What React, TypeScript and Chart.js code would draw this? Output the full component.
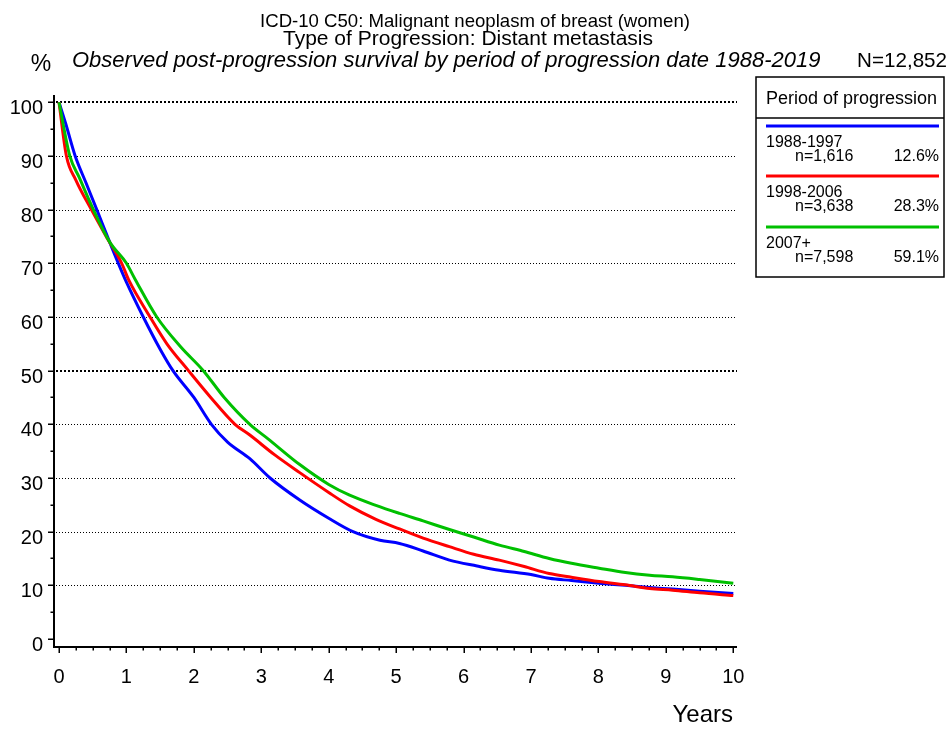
import React, { useEffect, useRef } from "react";
import { Chart, registerables } from "chart.js";

Chart.register(...registerables);

// ---- Data ----
const periods = ["1988-1997", "1998-2006", "2007+"];
const counts = ["n=1,616", "n=3,638", "n=7,598"];
const shares = ["12.6%", "28.3%", "59.1%"];

const years1988 = [0, 0.1, 0.24, 0.4, 0.56, 0.75, 0.88, 1.0, 1.25, 1.5, 1.69, 2.0, 2.26, 2.5, 2.83, 3.13, 3.57, 4.0, 4.36, 4.76, 5.05, 5.4, 5.79, 6.2, 6.53, 7.0, 7.27, 7.6, 8.01, 8.4, 8.76, 9.1, 9.5, 10];
const surv1988 = [100, 96, 90, 85, 80, 74, 70, 66.5, 60, 54, 50, 45, 40, 36.7, 33.6, 30, 25.9, 22.5, 20, 18.4, 17.8, 16.4, 14.7, 13.6, 12.8, 12.0, 11.3, 10.9, 10.4, 10.0, 9.6, 9.3, 8.9, 8.5];

const years1998 = [0, 0.11, 0.25, 0.48, 0.7, 0.93, 1.03, 1.35, 1.6, 1.92, 2.25, 2.61, 2.83, 3.2, 3.57, 4.0, 4.31, 4.7, 5.05, 5.4, 5.79, 6.15, 6.53, 6.9, 7.27, 7.6, 8.01, 8.4, 8.76, 9.1, 9.5, 10];
const surv1998 = [100, 90, 85.5, 80, 75, 70, 67, 60, 55, 50, 45, 40, 38, 34.3, 31, 27.3, 24.8, 22.3, 20.5, 18.8, 17.2, 15.8, 14.7, 13.5, 12.2, 11.5, 10.7, 10.1, 9.4, 9.1, 8.6, 8.1];

const years2007 = [0, 0.16, 0.3, 0.51, 0.75, 1.0, 1.13, 1.45, 1.8, 2.14, 2.45, 2.83, 3.1, 3.57, 4.0, 4.31, 4.7, 5.05, 5.4, 5.79, 6.15, 6.53, 6.9, 7.27, 7.6, 8.01, 8.4, 8.76, 9.1, 9.5, 10];
const surv2007 = [100, 90, 86, 80, 74, 70, 67, 60, 54.5, 50, 45, 40, 37.3, 32.5, 28.8, 26.8, 24.9, 23.4, 22, 20.4, 19, 17.5, 16.3, 15, 14.1, 13.2, 12.4, 11.9, 11.6, 11.1, 10.4];

const xTickLabels = ["0", "1", "2", "3", "4", "5", "6", "7", "8", "9", "10"];
const yTickLabels = ["0", "10", "20", "30", "40", "50", "60", "70", "80", "90", "100"];

const titleLine1 = "ICD-10 C50: Malignant neoplasm of breast (women)";
const titleLine2 = "Type of Progression: Distant metastasis";
const titleLine3 = "Observed post-progression survival by period of progression date 1988-2019";
const totalN = "N=12,852";
const legendTitle = "Period of progression";

// ---- Styles ----
const colors = ["#0000ff", "#ff0000", "#00c000"];
const FONT = "'Liberation Sans', Arial, Helvetica, sans-serif";

const toPoints = (xs: number[], ys: number[]) => xs.map((x, i) => ({ x, y: ys[i] }));

const framePlugin = {
  id: "frame",
  beforeDatasetsDraw(chart: any) {
    const ctx: CanvasRenderingContext2D = chart.ctx;
    const xs = chart.scales.x;
    const ys = chart.scales.y;
    const a = chart.chartArea;
    ctx.save();
    // grid lines
    yTickLabels.forEach((lab) => {
      const v = Number(lab);
      if (v === 0) return;
      const bold = v === 50 || v === 100;
      const y = Math.round(ys.getPixelForValue(v)) + (bold ? 0 : 0.5);
      ctx.beginPath();
      ctx.strokeStyle = "#000";
      ctx.lineWidth = bold ? 2 : 1;
      ctx.setLineDash(bold ? [2, 2] : [1, 2]);
      ctx.moveTo(a.left + 2, y);
      ctx.lineTo(a.right, y);
      ctx.stroke();
    });
    ctx.setLineDash([]);
    // axes
    ctx.beginPath();
    ctx.strokeStyle = "#000";
    ctx.lineWidth = 2;
    ctx.moveTo(a.left, a.top);
    ctx.lineTo(a.left, a.bottom);
    ctx.lineTo(a.right, a.bottom);
    ctx.stroke();
    // y ticks (major 10, minor 5)
    ctx.lineWidth = 1.5;
    for (let v = 0; v <= 100; v += 5) {
      const y = Math.round(ys.getPixelForValue(v)) + 0.25;
      const len = v % 10 === 0 ? 6 : 3.5;
      ctx.beginPath();
      ctx.moveTo(a.left - len, y);
      ctx.lineTo(a.left, y);
      ctx.stroke();
    }
    // x ticks (major 1, minor 0.25)
    for (let i = 0; i <= 40; i++) {
      const t = i / 4;
      const x = Math.round(xs.getPixelForValue(t)) + 0.25;
      const len = i % 4 === 0 ? 6 : 3.5;
      ctx.beginPath();
      ctx.moveTo(x, a.bottom);
      ctx.lineTo(x, a.bottom + len);
      ctx.stroke();
    }
    // tick labels
    ctx.fillStyle = "#000";
    ctx.font = `20px ${FONT}`;
    ctx.textBaseline = "alphabetic";
    ctx.textAlign = "right";
    yTickLabels.forEach((lab) => {
      const y = ys.getPixelForValue(Number(lab));
      ctx.fillText(lab, 43, y + 12);
    });
    ctx.textAlign = "center";
    xTickLabels.forEach((lab) => {
      const x = xs.getPixelForValue(Number(lab));
      ctx.fillText(lab, x, 683);
    });
    // axis titles
    ctx.font = `24px ${FONT}`;
    ctx.textAlign = "right";
    ctx.fillText("Years", 733, 722);
    ctx.font = `23px ${FONT}`;
    ctx.textAlign = "center";
    ctx.fillText("%", 41, 71);
    ctx.restore();
  },
  afterDraw(chart: any) {
    const ctx: CanvasRenderingContext2D = chart.ctx;
    ctx.save();
    ctx.fillStyle = "#000";
    ctx.textBaseline = "alphabetic";
    // titles
    ctx.textAlign = "center";
    ctx.font = `18.6px ${FONT}`;
    ctx.fillText(titleLine1, 475, 27);
    ctx.font = `21px ${FONT}`;
    ctx.fillText(titleLine2, 468, 45);
    ctx.font = `italic 22px ${FONT}`;
    ctx.textAlign = "left";
    ctx.fillText(titleLine3, 72, 67);
    ctx.font = `20.6px ${FONT}`;
    ctx.textAlign = "right";
    ctx.fillText(totalN, 947, 67);
    // legend box
    ctx.strokeStyle = "#000";
    ctx.lineWidth = 1.5;
    ctx.strokeRect(756, 77, 188, 200);
    ctx.beginPath();
    ctx.moveTo(756, 118);
    ctx.lineTo(944, 118);
    ctx.stroke();
    ctx.font = `18px ${FONT}`;
    ctx.textAlign = "left";
    ctx.fillText(legendTitle, 766, 104);
    const lineYs = [126, 176, 227];
    periods.forEach((p, i) => {
      const ly = lineYs[i];
      ctx.beginPath();
      ctx.strokeStyle = colors[i];
      ctx.lineWidth = 3;
      ctx.moveTo(766, ly);
      ctx.lineTo(939, ly);
      ctx.stroke();
      ctx.font = `16px ${FONT}`;
      ctx.textAlign = "left";
      ctx.fillText(p, 766, ly + 21);
      ctx.fillText(counts[i], 795, ly + 35);
      ctx.textAlign = "right";
      ctx.fillText(shares[i], 939, ly + 35);
    });
    ctx.restore();
  },
};

export default function App() {
  const ref = useRef<HTMLCanvasElement>(null);
  useEffect(() => {
    document.body.style.margin = "0";
    const canvas = ref.current!;
    const series = [
      { xs: years1988, ys: surv1988 },
      { xs: years1998, ys: surv1998 },
      { xs: years2007, ys: surv2007 },
    ];
    const chart = new Chart(canvas, {
      type: "line",
      data: {
        datasets: series.map((s, i) => ({
          label: periods[i],
          data: toPoints(s.xs, s.ys),
          borderColor: colors[i],
          backgroundColor: colors[i],
          borderWidth: 3,
          pointRadius: 0,
          cubicInterpolationMode: "monotone",
          fill: false,
          order: 2 - i,
        })),
      },
      options: {
        responsive: false,
        animation: false,
        events: [],
        layout: { padding: { left: 54, right: 212, top: 95, bottom: 82 } },
        plugins: {
          legend: { display: false },
          title: { display: false },
          tooltip: { enabled: false },
        },
        scales: {
          x: { type: "linear", min: -0.0742, max: 10.055, display: false },
          y: { type: "linear", min: -1.49, max: 101.36, display: false },
        },
      },
      plugins: [framePlugin],
    } as any);
    return () => chart.destroy();
  }, []);
  return <canvas ref={ref} width={949} height={729} style={{ display: "block" }} />;
}
